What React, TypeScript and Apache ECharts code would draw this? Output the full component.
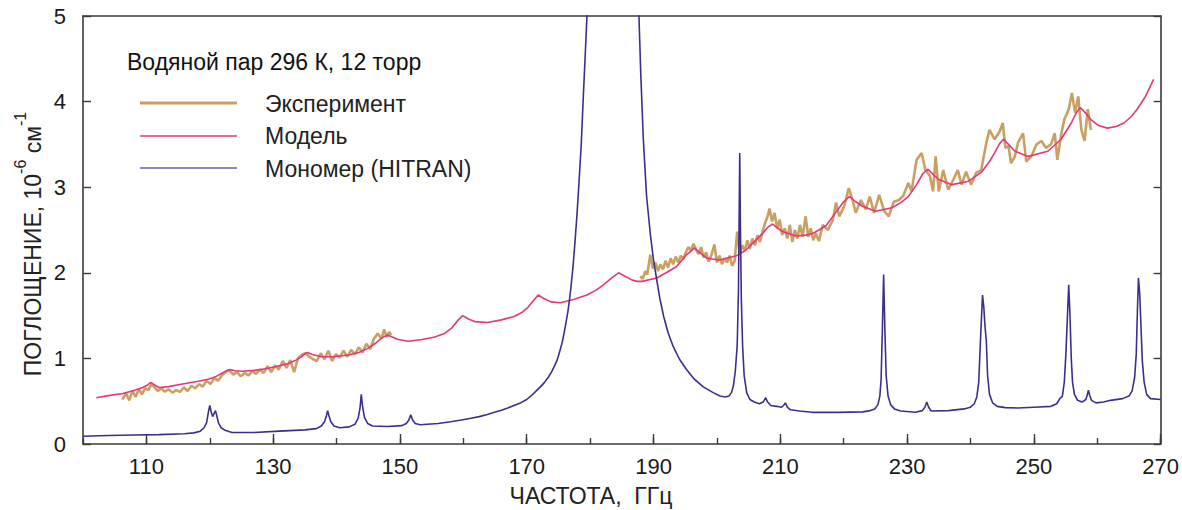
import React, { useEffect, useRef } from "react";
import * as echarts from "echarts";

const FONT = "'Liberation Sans', Arial, sans-serif";

const title = "Водяной пар 296 К, 12 торр";
const legendNames = ["Эксперимент", "Модель", "Мономер (HITRAN)"];
const colors = ["#c9a062", "#e8357c", "#3d2e8e"];
const xLabelTicks = [110, 130, 150, 170, 190, 210, 230, 250, 270];
const xAxisTitle = "ЧАСТОТА,  ГГц";

const experiment1: [number, number][] = [
  [106.2, 0.52], [106.8, 0.59], [107.3, 0.51], [107.8, 0.62], [108.3, 0.55], [108.8, 0.64], [109.3, 0.58], [109.8, 0.65],
  [110.3, 0.63], [110.8, 0.70], [111.3, 0.66], [111.8, 0.62], [112.4, 0.65], [112.9, 0.61], [113.5, 0.64], [114.1, 0.60],
  [114.7, 0.63], [115.3, 0.61], [115.9, 0.66], [116.5, 0.62], [117.1, 0.68], [117.7, 0.65], [118.3, 0.70], [118.9, 0.67],
  [119.5, 0.74], [120.1, 0.70], [120.7, 0.77], [121.3, 0.74], [121.9, 0.80], [122.5, 0.84], [123.1, 0.86], [123.7, 0.81],
  [124.3, 0.84], [124.9, 0.79], [125.5, 0.83], [126.1, 0.80], [126.7, 0.85], [127.3, 0.82], [127.9, 0.87], [128.5, 0.83],
  [129.1, 0.91], [129.7, 0.84], [130.3, 0.92], [130.9, 0.87], [131.5, 0.97], [132.1, 0.89], [132.7, 0.98], [133.3, 0.84],
  [133.9, 1.00], [134.5, 1.04], [135.1, 1.06], [135.7, 1.02], [136.3, 0.99], [136.9, 0.97], [137.5, 1.06], [138.1, 0.99],
  [138.7, 1.09], [139.3, 0.97], [139.9, 1.05], [140.5, 1.01], [141.1, 1.09], [141.7, 1.02], [142.3, 1.10], [142.9, 1.05],
  [143.5, 1.13], [144.1, 1.07], [144.7, 1.17], [145.3, 1.11], [145.9, 1.23], [146.5, 1.29], [147.1, 1.23], [147.5, 1.34],
  [147.9, 1.25], [148.3, 1.31], [148.6, 1.27],
];

const experiment2: [number, number][] = [
  [187.9, 1.96], [188.3, 1.93], [188.7, 2.02], [189.0, 1.98], [189.5, 2.21], [189.9, 2.05], [190.3, 2.12], [190.7, 2.02],
  [191.1, 2.10], [191.5, 2.04], [191.9, 2.14], [192.3, 2.06], [192.7, 2.17], [193.1, 2.10], [193.5, 2.19], [193.9, 2.12],
  [194.3, 2.20], [194.7, 2.16], [195.1, 2.24], [195.5, 2.30], [195.9, 2.26], [196.3, 2.34], [196.7, 2.27], [197.1, 2.22],
  [197.5, 2.30], [197.9, 2.18], [198.3, 2.24], [198.7, 2.13], [199.1, 2.20], [199.6, 2.33], [200.0, 2.12], [200.4, 2.20],
  [200.8, 2.10], [201.2, 2.17], [201.6, 2.12], [202.0, 2.20], [202.4, 2.08], [202.8, 2.14], [203.2, 2.48], [203.6, 2.22],
  [204.0, 2.32], [204.4, 2.26], [204.8, 2.38], [205.2, 2.28], [205.6, 2.40], [206.0, 2.32], [206.4, 2.44], [206.8, 2.36],
  [207.2, 2.48], [207.6, 2.58], [208.0, 2.66], [208.3, 2.75], [208.7, 2.60], [209.1, 2.70], [209.5, 2.52], [209.9, 2.62],
  [210.3, 2.44], [210.7, 2.52], [211.1, 2.40], [211.5, 2.56], [211.9, 2.36], [212.3, 2.50], [212.7, 2.40], [213.1, 2.56],
  [213.5, 2.42], [214.0, 2.66], [214.4, 2.42], [214.8, 2.52], [215.2, 2.38], [215.6, 2.46], [216.1, 2.37], [216.7, 2.56],
  [217.5, 2.50], [218.3, 2.62], [218.8, 2.82], [219.3, 2.66], [220.1, 2.78], [220.8, 2.99], [221.4, 2.85], [221.9, 2.70],
  [222.7, 2.85], [223.5, 2.74], [224.1, 2.89], [224.8, 2.70], [225.6, 2.91], [226.4, 2.72], [227.1, 2.66], [227.9, 2.83],
  [228.7, 2.85], [229.4, 2.90], [230.2, 3.05], [230.7, 2.95], [231.5, 3.32], [232.3, 3.40], [232.9, 3.20], [233.6, 3.13],
  [234.1, 2.95], [234.5, 3.36], [235.0, 2.95], [235.7, 3.20], [236.5, 2.97], [237.3, 3.09], [238.0, 3.20], [238.6, 3.03],
  [239.3, 3.18], [240.1, 3.03], [240.9, 3.17], [241.7, 3.20], [242.5, 3.52], [243.0, 3.67], [243.8, 3.56], [244.6, 3.65],
  [245.1, 3.75], [245.5, 3.46], [246.0, 3.48], [246.4, 3.28], [247.0, 3.36], [247.5, 3.52], [248.3, 3.63], [248.8, 3.30],
  [249.6, 3.36], [250.4, 3.50], [251.2, 3.54], [251.9, 3.46], [252.7, 3.50], [253.3, 3.63], [253.7, 3.32], [254.3, 3.61],
  [254.8, 3.79], [255.5, 3.91], [256.0, 4.10], [256.5, 3.87], [257.0, 4.06], [257.5, 3.67], [258.0, 3.54], [258.5, 3.91],
  [259.0, 3.67],
];

const model: [number, number][] = [
  [102.1, 0.54], [104, 0.565], [106.3, 0.59], [108, 0.625], [109.4, 0.66], [110.2, 0.69], [110.7, 0.72], [111.3, 0.69],
  [112.0, 0.66], [113.5, 0.67], [115.7, 0.70], [118, 0.73], [119.9, 0.76], [121, 0.79], [122.0, 0.83], [122.7, 0.86],
  [123.2, 0.87], [124, 0.855], [125.1, 0.85], [127, 0.86], [128.8, 0.88], [130.5, 0.905], [132.4, 0.94], [133.6, 0.98],
  [134.5, 1.02], [135.0, 1.055], [135.4, 1.07], [136.2, 1.045], [137.6, 1.02], [139.5, 1.02], [141.9, 1.04], [143.5, 1.07],
  [145.0, 1.12], [146.2, 1.18], [147.1, 1.24], [148.0, 1.27], [148.8, 1.25], [149.7, 1.22], [151.3, 1.20], [153.5, 1.22],
  [155.5, 1.25], [157, 1.29], [158.1, 1.35], [159.2, 1.45], [159.9, 1.50], [160.8, 1.46], [161.8, 1.43], [163.8, 1.42],
  [166, 1.45], [168.0, 1.49], [169.3, 1.54], [170.1, 1.59], [171.0, 1.67], [171.8, 1.74], [172.7, 1.70], [173.8, 1.66],
  [175.3, 1.65], [177.5, 1.69], [179.5, 1.74], [181, 1.80], [182.1, 1.86], [183.4, 1.94], [184.5, 2.00], [185.5, 1.96],
  [186.5, 1.92], [187.4, 1.90], [188.2, 1.90], [190.5, 1.94], [192, 2.00], [193.6, 2.07], [195.2, 2.21], [196.5, 2.29],
  [197.4, 2.23], [198.4, 2.17], [200.4, 2.15], [203.1, 2.20], [204.5, 2.26], [205.7, 2.35], [207.2, 2.46], [208.0, 2.53],
  [208.8, 2.57], [209.6, 2.52], [210.4, 2.48], [212.5, 2.43], [214, 2.44], [215.1, 2.46], [216.1, 2.50], [217.2, 2.55],
  [218.7, 2.70], [220.0, 2.83], [220.9, 2.89], [221.9, 2.83], [222.9, 2.78], [225.0, 2.72], [227.6, 2.76], [229.0, 2.82],
  [230.2, 2.89], [231.5, 3.03], [232.5, 3.16], [233.3, 3.21], [234.1, 3.15], [235.0, 3.09], [237.1, 3.03], [239.7, 3.07],
  [241.8, 3.18], [243.0, 3.30], [243.8, 3.40], [244.6, 3.51], [245.2, 3.56], [246.0, 3.50], [247.0, 3.42], [249.1, 3.36],
  [252.2, 3.42], [254.3, 3.56], [255.9, 3.75], [256.7, 3.87], [257.3, 3.93], [258.0, 3.88], [259.0, 3.79], [260.2, 3.72],
  [261.6, 3.69], [263, 3.71], [264.2, 3.75], [265.3, 3.82], [266.3, 3.91], [267.6, 4.06], [268.9, 4.26],
];

const monomer: [number, number][] = [
  [100, 0.09], [104, 0.10], [108, 0.105], [112, 0.11], [116, 0.12], [117.5, 0.13], [118.5, 0.15], [119.1, 0.19],
  [119.5, 0.25], [119.8, 0.38], [120.0, 0.45], [120.2, 0.38], [120.45, 0.32], [120.7, 0.36], [120.9, 0.39], [121.1, 0.33],
  [121.4, 0.24], [121.8, 0.19], [122.4, 0.16], [123.5, 0.135], [127, 0.135], [131, 0.15], [135, 0.165], [136.8, 0.18],
  [137.6, 0.21], [138.1, 0.26], [138.4, 0.33], [138.6, 0.39], [138.8, 0.33], [139.1, 0.26], [139.6, 0.21], [140.5, 0.19],
  [142.0, 0.20], [142.9, 0.23], [143.4, 0.30], [143.7, 0.42], [143.9, 0.58], [144.1, 0.44], [144.4, 0.31], [144.9, 0.24],
  [145.7, 0.21], [148, 0.205], [150.3, 0.215], [151.0, 0.24], [151.4, 0.28], [151.7, 0.34], [152.0, 0.28], [152.4, 0.24],
  [153.2, 0.225], [156, 0.24], [158, 0.26], [159.7, 0.28], [161.2, 0.30], [162.5, 0.32], [163.8, 0.345], [164.9, 0.37],
  [166, 0.395], [167, 0.42], [168, 0.45], [169, 0.48], [170, 0.52], [170.8, 0.57], [171.5, 0.62], [172.2, 0.67],
  [172.8, 0.72], [173.4, 0.78], [173.9, 0.84], [174.3, 0.90], [174.8, 0.98], [175.2, 1.08], [175.6, 1.19], [175.9, 1.30],
  [176.2, 1.42], [176.5, 1.55], [176.8, 1.72], [177.0, 1.85], [177.3, 2.07], [177.6, 2.35], [177.9, 2.65], [178.2, 3.00],
  [178.6, 3.50], [178.9, 4.02], [179.2, 4.50], [179.5, 5.0], [180.5, 8], [183.6, 40], [186.5, 8], [187.4, 5.6],
  [187.7, 5.0], [188.0, 4.3], [188.4, 3.55], [188.9, 2.90], [189.5, 2.45], [190.0, 2.15], [190.5, 1.92], [191.0, 1.70],
  [191.6, 1.49], [192.3, 1.30], [193.1, 1.14], [194.1, 0.99], [195.2, 0.87], [196.4, 0.76], [197.8, 0.67], [199.4, 0.60],
  [200.5, 0.56], [201.3, 0.55], [201.9, 0.56], [202.3, 0.60], [202.6, 0.68], [202.9, 0.85], [203.2, 1.15], [203.4, 1.8],
  [203.5, 2.6], [203.6, 3.40], [203.7, 2.6], [203.85, 1.7], [204.05, 1.15], [204.3, 0.80], [204.7, 0.60], [205.2, 0.52],
  [205.9, 0.49], [206.7, 0.47], [207.3, 0.49], [207.7, 0.54], [208.0, 0.49], [208.5, 0.45], [209.4, 0.44], [210.2, 0.43],
  [210.5, 0.45], [210.8, 0.48], [211.1, 0.43], [211.6, 0.40], [213, 0.385], [215, 0.37], [219, 0.37], [223.0, 0.375],
  [224.2, 0.39], [224.9, 0.41], [225.4, 0.46], [225.7, 0.56], [225.9, 0.75], [226.1, 1.33], [226.3, 1.98], [226.5, 1.33],
  [226.7, 0.80], [227.0, 0.56], [227.4, 0.46], [228.0, 0.41], [229, 0.385], [231.3, 0.37], [232.4, 0.39], [232.8, 0.43],
  [233.1, 0.49], [233.4, 0.43], [233.8, 0.385], [236.5, 0.39], [239, 0.41], [240.0, 0.43], [240.6, 0.47], [241.0, 0.55],
  [241.3, 0.72], [241.6, 1.25], [241.9, 1.74], [242.1, 1.60], [242.3, 1.37], [242.5, 1.20], [242.7, 0.80], [243.0, 0.58],
  [243.5, 0.48], [244.2, 0.44], [245.5, 0.425], [247.5, 0.42], [250, 0.43], [252.7, 0.44], [253.6, 0.47], [254.1, 0.53],
  [254.5, 0.56], [254.8, 0.72], [255.05, 1.05], [255.3, 1.50], [255.5, 1.86], [255.7, 1.50], [255.9, 1.00], [256.1, 0.72],
  [256.4, 0.58], [256.9, 0.51], [257.6, 0.49], [258.2, 0.52], [258.45, 0.58], [258.6, 0.63], [258.8, 0.57], [259.1, 0.51],
  [259.8, 0.48], [261, 0.49], [262.1, 0.51], [264, 0.53], [265.0, 0.56], [265.5, 0.62], [265.9, 0.78], [266.15, 1.05],
  [266.35, 1.60], [266.5, 1.94], [266.7, 1.75], [266.9, 1.37], [267.1, 0.98], [267.4, 0.72], [267.8, 0.58], [268.4, 0.53],
  [270, 0.52],
];

export default function App() {
  const ref = useRef<HTMLDivElement>(null);

  useEffect(() => {
    if (!ref.current) return;
    const chart = echarts.init(ref.current, null, { renderer: "svg" });
    const axisColor = "#3a3a3a";
    const experimentData: any[] = [...experiment1, [168, null], ...experiment2];

    chart.setOption({
      animation: false,
      backgroundColor: "#ffffff",
      grid: { left: 83, right: 13, top: 16, bottom: 66, containLabel: false },
      xAxis: [
        {
          type: "value", min: 100, max: 270, interval: 10, position: "bottom",
          axisLine: { show: true, onZero: false, lineStyle: { color: axisColor, width: 1.6 } },
          axisTick: { show: true, inside: true, length: 6, lineStyle: { color: axisColor, width: 1.4 } },
          axisLabel: { customValues: xLabelTicks, margin: 11, fontSize: 22, color: "#1a1a1a", fontFamily: FONT },
          splitLine: { show: false },
        },
        {
          type: "value", min: 100, max: 270, position: "bottom",
          axisLine: { show: false },
          axisTick: { show: true, inside: true, length: 10, customValues: xLabelTicks, lineStyle: { color: axisColor, width: 1.4 } },
          axisLabel: { show: false },
          splitLine: { show: false },
        },
        {
          type: "value", min: 100, max: 270, position: "top",
          axisLine: { show: true, onZero: false, lineStyle: { color: axisColor, width: 1.6 } },
          axisTick: { show: false }, axisLabel: { show: false }, splitLine: { show: false },
        },
      ],
      yAxis: [
        {
          type: "value", min: 0, max: 5, interval: 1, position: "left",
          axisLine: { show: true, onZero: false, lineStyle: { color: axisColor, width: 1.6 } },
          axisTick: { show: true, inside: true, length: 8, lineStyle: { color: axisColor, width: 1.4 } },
          axisLabel: { margin: 17, fontSize: 22, color: "#1a1a1a", fontFamily: FONT },
          splitLine: { show: false },
        },
        {
          type: "value", min: 0, max: 5, interval: 1, position: "right",
          axisLine: { show: true, onZero: false, lineStyle: { color: axisColor, width: 1.6 } },
          axisTick: { show: true, inside: true, length: 7, lineStyle: { color: axisColor, width: 1.4 } },
          axisLabel: { show: false }, splitLine: { show: false },
        },
      ],
      series: [
        {
          name: legendNames[0], type: "line", data: experimentData, showSymbol: false, connectNulls: false,
          lineStyle: { color: colors[0], width: 2.6 }, z: 2,
        },
        {
          name: legendNames[1], type: "line", data: model, showSymbol: false,
          lineStyle: { color: colors[1], width: 1.6 }, z: 3,
        },
        {
          name: legendNames[2], type: "line", data: monomer, showSymbol: false, clip: true,
          lineStyle: { color: colors[2], width: 1.6 }, z: 4,
        },
      ],
      graphic: [
        {
          type: "text", x: 127, y: 62,
          style: { text: title, font: `23px ${FONT}`, fill: "#111", verticalAlign: "middle", align: "left" },
        },
        { type: "line", shape: { x1: 140, y1: 103, x2: 237, y2: 103 }, style: { stroke: colors[0], lineWidth: 3 } },
        { type: "line", shape: { x1: 140, y1: 136, x2: 237, y2: 136 }, style: { stroke: colors[1], lineWidth: 1.5 } },
        { type: "line", shape: { x1: 140, y1: 168, x2: 237, y2: 168 }, style: { stroke: "#6a5fa8", lineWidth: 1.5 } },
        {
          type: "text", x: 265, y: 104,
          style: { text: legendNames[0], font: `23px ${FONT}`, fill: "#222", verticalAlign: "middle", align: "left" },
        },
        {
          type: "text", x: 265, y: 136,
          style: { text: legendNames[1], font: `23px ${FONT}`, fill: "#222", verticalAlign: "middle", align: "left" },
        },
        {
          type: "text", x: 265, y: 169,
          style: { text: legendNames[2], font: `23px ${FONT}`, fill: "#222", verticalAlign: "middle", align: "left" },
        },
        {
          type: "text", x: 591, y: 496,
          style: { text: xAxisTitle, font: `23px ${FONT}`, fill: "#222", verticalAlign: "middle", align: "center" },
        },
        {
          type: "text", x: 28, y: 244, rotation: Math.PI / 2,
          style: {
            text: "{a|ПОГЛОЩЕНИЕ, 10}{s|-6}{a| см}{s|-1}",
            align: "center", verticalAlign: "middle", fill: "#222",
            rich: {
              a: { fontSize: 23, fontFamily: FONT, lineHeight: 32, fill: "#222", verticalAlign: "bottom" },
              s: { fontSize: 16, fontFamily: FONT, lineHeight: 16, fill: "#222", verticalAlign: "top" },
            },
          },
        },
      ],
    });

    return () => chart.dispose();
  }, []);

  return (
    <div
      ref={ref}
      style={{ position: "fixed", left: 0, top: 0, width: 1182, height: 510, background: "#fff" }}
    />
  );
}
